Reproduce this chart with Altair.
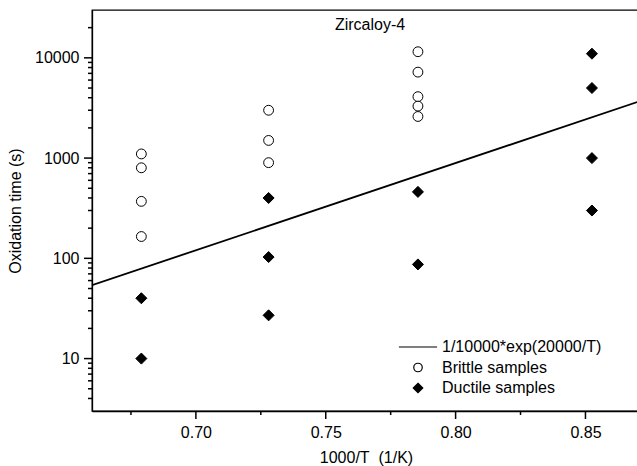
import altair as alt
import pandas as pd

FONT = "Liberation Sans"

# ---- data ----
legend_names = ["1/10000*exp(20000/T)", "Brittle samples", "Ductile samples"]

brittle_x = [0.679, 0.679, 0.679, 0.679,
             0.728, 0.728, 0.728,
             0.7855, 0.7855, 0.7855, 0.7855, 0.7855]
brittle_y = [1100, 800, 370, 165,
             3000, 1500, 900,
             11500, 7200, 4100, 3300, 2600]

ductile_x = [0.679, 0.679,
             0.728, 0.728, 0.728,
             0.7855, 0.7855,
             0.8525, 0.8525, 0.8525, 0.8525]
ductile_y = [40, 10,
             400, 103, 27,
             460, 87,
             11000, 5000, 1000, 300]

line_x = [0.66, 0.871]
line_y = [54, 3700]

x_major = [0.70, 0.75, 0.80, 0.85]
x_minor = [0.675, 0.725, 0.775, 0.825]
y_major = [10, 100, 1000, 10000]
y_minor = [4, 5, 6, 7, 8, 9, 20, 30, 40, 50, 60, 70, 80, 90,
           200, 300, 400, 500, 600, 700, 800, 900,
           2000, 3000, 4000, 5000, 6000, 7000, 8000, 9000, 20000]

pts = pd.DataFrame({
    "x": brittle_x + ductile_x,
    "y": brittle_y + ductile_y,
    "series": [legend_names[1]] * len(brittle_x) + [legend_names[2]] * len(ductile_x),
})
line_df = pd.DataFrame({"x": line_x, "y": line_y})

W, H = 548, 401
MAJOR, MINOR = 8, 4

x_scale = alt.Scale(domain=[0.66, 0.871], nice=False, zero=False)
y_scale = alt.Scale(type="log", domain=[3, 30000], nice=False)

x_axis = alt.Axis(values=x_major, format=".2f", grid=False, orient="bottom",
                  ticks=False, tickSize=0, zindex=0,
                  labelPadding=13, title="1000/T\u00a0 (1/K)",
                  titlePadding=9, labelOverlap=False, labelFlush=False)
y_axis = alt.Axis(values=y_major, format="d", grid=False, orient="left",
                  ticks=False, tickSize=0, zindex=0,
                  labelPadding=13, title="Oxidation time (s)",
                  titlePadding=11, labelOverlap=False, labelFlush=False)

line_path = "M-4.5,0H4.5"
diamond_path = "M0,-1.12L1.12,0L0,1.12L-1.12,0Z"

leg = alt.Legend(title=None, orient="none", legendX=318, legendY=329)

line = alt.Chart(line_df).mark_line(color="black", strokeWidth=1.8, clip=True).encode(
    x=alt.X("x:Q", scale=x_scale, axis=x_axis),
    y=alt.Y("y:Q", scale=y_scale, axis=y_axis),
)


def xticks(vals, length):
    return alt.Chart(pd.DataFrame({"x": vals})).mark_rule(
        color="black", strokeWidth=1.5, clip=False
    ).encode(
        x=alt.X("x:Q", scale=x_scale, axis=x_axis),
        y=alt.value(H), y2=alt.value(H + length),
    )


def yticks(vals, length):
    return alt.Chart(pd.DataFrame({"y": vals})).mark_rule(
        color="black", strokeWidth=1.5, clip=False
    ).encode(
        y=alt.Y("y:Q", scale=y_scale, axis=y_axis),
        x=alt.value(0), x2=alt.value(-length),
    )


points = alt.Chart(pts).mark_point(
    filled=True, strokeWidth=1, opacity=1, size=97
).encode(
    x=alt.X("x:Q", scale=x_scale, axis=x_axis),
    y=alt.Y("y:Q", scale=y_scale, axis=y_axis),
    shape=alt.Shape("series:N",
                    scale=alt.Scale(domain=legend_names,
                                    range=[line_path, "circle", diamond_path]),
                    legend=leg),
    fill=alt.Fill("series:N",
                  scale=alt.Scale(domain=legend_names,
                                  range=["transparent", "white", "black"]),
                  legend=leg),
    stroke=alt.Stroke("series:N",
                      scale=alt.Scale(domain=legend_names,
                                      range=["black", "black", "black"]),
                      legend=leg),
)

chart = alt.layer(
    line,
    xticks(x_major, MAJOR), xticks(x_minor, MINOR),
    yticks(y_major, MAJOR), yticks(y_minor, MINOR),
    points,
).properties(
    width=W, height=H,
    autosize=alt.AutoSizeParams(type="none"),
    padding={"left": 92, "top": 10, "right": -3, "bottom": 55},
    title=alt.TitleParams("Zircaloy-4", anchor="middle", offset=-36, dx=4,
                          baseline="alphabetic", fontSize=16, font=FONT,
                          fontWeight="normal", color="black"),
).configure_view(
    stroke="black", strokeWidth=1.3
).configure_axis(
    domainColor="black", domainWidth=1.3,
    labelFont=FONT, labelFontSize=16, labelColor="black",
    titleFont=FONT, titleFontSize=16, titleFontWeight="normal", titleColor="black",
).configure_legend(
    padding=0, symbolSize=72, symbolStrokeWidth=1.2, symbolStrokeColor="black",
    labelFont=FONT, labelFontSize=16, labelColor="black", labelOffset=16,
    rowPadding=4.5,
)

chart.save("out.html", embed_options={"renderer": "svg", "actions": False})
